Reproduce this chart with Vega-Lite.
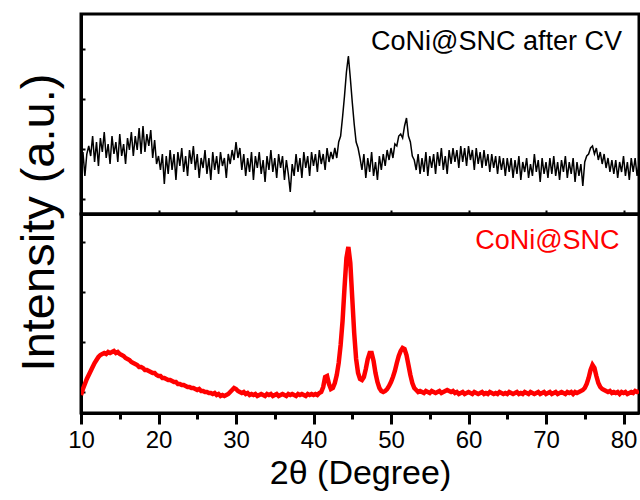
{
  "$schema": "https://vega.github.io/schema/vega-lite/v6.json",
  "padding": {"left": 13, "top": 12, "right": 2, "bottom": 4},
  "spacing": 0,
  "bounds": "flush",
  "config": {
    "font": "Liberation Sans",
    "view": {"stroke": "black", "strokeWidth": 3},
    "axis": {"domainColor": "black", "domainWidth": 3, "tickColor": "black", "tickWidth": 3, "grid": false, "labelColor": "black", "titleColor": "black", "labelFont": "Liberation Sans", "titleFont": "Liberation Sans", "titleFontWeight": "normal"}
  },
  "datasets": {
    "cv": [
      {"t":10,"v":46},{"t":10.25,"v":62},{"t":10.5,"v":38},{"t":10.75,"v":60},{"t":11,"v":68},
      {"t":11.25,"v":58},{"t":11.5,"v":78},{"t":11.75,"v":52},{"t":12,"v":72},{"t":12.25,"v":48},{"t":12.5,"v":76},{"t":12.75,"v":62},{"t":13,"v":82},{"t":13.25,"v":56},{"t":13.5,"v":70},{"t":13.75,"v":50},{"t":14,"v":78},{"t":14.25,"v":60},{"t":14.5,"v":72},{"t":14.75,"v":52},{"t":15,"v":80},{"t":15.25,"v":58},{"t":15.5,"v":70},{"t":15.75,"v":50},{"t":16,"v":76},{"t":16.25,"v":64},{"t":16.5,"v":82},{"t":16.75,"v":58},{"t":17,"v":78},{"t":17.25,"v":64},{"t":17.5,"v":86},{"t":17.75,"v":60},{"t":18,"v":88},{"t":18.25,"v":62},{"t":18.5,"v":80},{"t":18.75,"v":68},{"t":19,"v":84},{"t":19.25,"v":56},{"t":19.5,"v":74},{"t":19.75,"v":50},{"t":20,"v":58},
      {"t":20.25,"v":44},{"t":20.5,"v":60},{"t":20.75,"v":30},{"t":21,"v":58},{"t":21.25,"v":40},{"t":21.5,"v":64},{"t":21.75,"v":44},{"t":22,"v":60},{"t":22.25,"v":34},{"t":22.5,"v":62},{"t":22.75,"v":48},{"t":23,"v":66},{"t":23.25,"v":42},{"t":23.5,"v":58},{"t":23.75,"v":38},{"t":24,"v":64},{"t":24.25,"v":50},{"t":24.5,"v":68},{"t":24.75,"v":44},{"t":25,"v":60},{"t":25.25,"v":36},{"t":25.5,"v":56},{"t":25.75,"v":46},{"t":26,"v":64},{"t":26.25,"v":40},{"t":26.5,"v":56},{"t":26.75,"v":34},{"t":27,"v":62},{"t":27.25,"v":44},{"t":27.5,"v":58},{"t":27.75,"v":40},{"t":28,"v":62},{"t":28.25,"v":48},{"t":28.5,"v":56},{"t":28.75,"v":36},{"t":29,"v":60},{"t":29.25,"v":50},{"t":29.5,"v":64},
      {"t":29.75,"v":54},{"t":30,"v":72},{"t":30.25,"v":56},{"t":30.5,"v":66},
      {"t":30.75,"v":44},{"t":31,"v":60},{"t":31.25,"v":38},{"t":31.5,"v":56},{"t":31.75,"v":42},{"t":32,"v":62},{"t":32.25,"v":34},{"t":32.5,"v":58},{"t":32.75,"v":46},{"t":33,"v":62},{"t":33.25,"v":40},{"t":33.5,"v":54},{"t":33.75,"v":32},{"t":34,"v":58},{"t":34.25,"v":44},{"t":34.5,"v":64},{"t":34.75,"v":42},{"t":35,"v":56},{"t":35.25,"v":36},{"t":35.5,"v":60},{"t":35.75,"v":46},{"t":36,"v":58},{"t":36.25,"v":34},{"t":36.5,"v":54},{"t":36.75,"v":40},{"t":37,"v":22},{"t":37.25,"v":50},{"t":37.5,"v":38},{"t":37.75,"v":60},{"t":38,"v":42},{"t":38.25,"v":56},{"t":38.5,"v":36},{"t":38.75,"v":62},{"t":39,"v":46},{"t":39.25,"v":58},{"t":39.5,"v":38},{"t":39.75,"v":62},{"t":40,"v":48},{"t":40.25,"v":60},{"t":40.5,"v":42},{"t":40.75,"v":64},{"t":41,"v":50},{"t":41.25,"v":60},{"t":41.5,"v":44},{"t":41.75,"v":66},{"t":42,"v":52},{"t":42.25,"v":62},
      {"t":42.5,"v":55},{"t":42.75,"v":66},{"t":43,"v":56},{"t":43.25,"v":72},{"t":43.5,"v":78},{"t":43.75,"v":97},{"t":44,"v":118},{"t":44.25,"v":142},{"t":44.5,"v":158},{"t":44.75,"v":136},{"t":45,"v":112},{"t":45.25,"v":90},{"t":45.5,"v":72},{"t":45.75,"v":66},{"t":46,"v":56},
      {"t":46.25,"v":44},{"t":46.5,"v":60},{"t":46.75,"v":36},{"t":47,"v":56},{"t":47.25,"v":42},{"t":47.5,"v":62},{"t":47.75,"v":38},{"t":48,"v":52},{"t":48.25,"v":34},{"t":48.5,"v":58},{"t":48.75,"v":44},{"t":49,"v":60},{"t":49.25,"v":48},{"t":49.5,"v":64},{"t":49.75,"v":54},{"t":50,"v":66},{"t":50.25,"v":56},{"t":50.5,"v":70},
      {"t":50.75,"v":68},{"t":51,"v":78},{"t":51.25,"v":80},{"t":51.5,"v":76},{"t":51.75,"v":88},{"t":52,"v":96},{"t":52.25,"v":78},{"t":52.5,"v":72},{"t":52.75,"v":58},{"t":53,"v":54},
      {"t":53.25,"v":44},{"t":53.5,"v":60},{"t":53.75,"v":40},{"t":54,"v":56},{"t":54.25,"v":42},{"t":54.5,"v":62},{"t":54.75,"v":38},{"t":55,"v":58},{"t":55.25,"v":46},{"t":55.5,"v":60},{"t":55.75,"v":40},{"t":56,"v":62},{"t":56.25,"v":48},{"t":56.5,"v":66},{"t":56.75,"v":44},{"t":57,"v":58},{"t":57.25,"v":40},{"t":57.5,"v":64},{"t":57.75,"v":50},{"t":58,"v":66},{"t":58.25,"v":52},{"t":58.5,"v":64},{"t":58.75,"v":46},{"t":59,"v":68},{"t":59.25,"v":52},{"t":59.5,"v":66},{"t":59.75,"v":48},{"t":60,"v":68},{"t":60.25,"v":54},{"t":60.5,"v":64},{"t":60.75,"v":44},{"t":61,"v":66},{"t":61.25,"v":50},{"t":61.5,"v":62},{"t":61.75,"v":46},{"t":62,"v":64},{"t":62.25,"v":48},{"t":62.5,"v":60},{"t":62.75,"v":42},{"t":63,"v":60},{"t":63.25,"v":46},{"t":63.5,"v":58},{"t":63.75,"v":40},{"t":64,"v":58},{"t":64.25,"v":44},{"t":64.5,"v":56},{"t":64.75,"v":38},{"t":65,"v":56},
      {"t":65.25,"v":42},{"t":65.5,"v":56},{"t":65.75,"v":36},{"t":66,"v":54},{"t":66.25,"v":40},{"t":66.5,"v":58},{"t":66.75,"v":34},{"t":67,"v":52},{"t":67.25,"v":42},{"t":67.5,"v":56},{"t":67.75,"v":36},{"t":68,"v":50},{"t":68.25,"v":38},{"t":68.5,"v":60},{"t":68.75,"v":42},{"t":69,"v":54},{"t":69.25,"v":32},{"t":69.5,"v":56},{"t":69.75,"v":40},{"t":70,"v":52},{"t":70.25,"v":36},{"t":70.5,"v":56},{"t":70.75,"v":40},{"t":71,"v":58},{"t":71.25,"v":38},{"t":71.5,"v":52},{"t":71.75,"v":34},{"t":72,"v":54},{"t":72.25,"v":42},{"t":72.5,"v":58},{"t":72.75,"v":36},{"t":73,"v":52},{"t":73.25,"v":40},{"t":73.5,"v":56},{"t":73.75,"v":32},{"t":74,"v":52},{"t":74.25,"v":38},{"t":74.5,"v":50},{"t":74.75,"v":28},{"t":75,"v":52},
      {"t":75.25,"v":58},{"t":75.5,"v":60},{"t":75.75,"v":66},{"t":76,"v":68},{"t":76.25,"v":60},{"t":76.5,"v":66},{"t":76.75,"v":54},{"t":77,"v":62},{"t":77.25,"v":50},{"t":77.5,"v":60},{"t":77.75,"v":46},{"t":78,"v":56},{"t":78.25,"v":42},{"t":78.5,"v":54},
      {"t":78.75,"v":40},{"t":79,"v":54},{"t":79.25,"v":36},{"t":79.5,"v":52},{"t":79.75,"v":42},{"t":80,"v":58},{"t":80.25,"v":38},{"t":80.5,"v":52},{"t":80.75,"v":34},{"t":81,"v":56},{"t":81.25,"v":42},{"t":81.5,"v":56},{"t":81.75,"v":38},{"t":82,"v":50}
    ],
    "pristine": [
      {"t":10,"v":18},{"t":10.25,"v":24},{"t":10.5,"v":29},{"t":10.75,"v":34},{"t":11,"v":38},{"t":11.25,"v":42},{"t":11.5,"v":46},{"t":11.75,"v":50},{"t":12,"v":53},{"t":12.25,"v":56},{"t":12.5,"v":58},{"t":12.75,"v":59},{"t":13,"v":60},{"t":13.25,"v":59},{"t":13.5,"v":61},{"t":13.75,"v":60},{"t":14,"v":61},{"t":14.25,"v":62},{"t":14.5,"v":60},{"t":14.75,"v":61},{"t":15,"v":59},{"t":15.25,"v":58},{"t":15.5,"v":57},{"t":15.75,"v":55},{"t":16,"v":54},{"t":16.25,"v":53},{"t":16.5,"v":51},{"t":16.75,"v":50},{"t":17,"v":49},{"t":17.25,"v":48},{"t":17.5,"v":46},{"t":17.75,"v":46},{"t":18,"v":45},{"t":18.25,"v":43},{"t":18.5,"v":43},{"t":18.75,"v":42},{"t":19,"v":41},{"t":19.25,"v":40},{"t":19.5,"v":40},{"t":19.75,"v":38},{"t":20,"v":37},{"t":20.25,"v":37},{"t":20.5,"v":35},{"t":20.75,"v":35},{"t":21,"v":34},{"t":21.25,"v":33},{"t":21.5,"v":33},{"t":21.75,"v":32},{"t":22,"v":31},{"t":22.25,"v":31},{"t":22.5,"v":29},{"t":22.75,"v":29},{"t":23,"v":28},{"t":23.25,"v":28},{"t":23.5,"v":27},{"t":23.75,"v":26},{"t":24,"v":26},{"t":24.25,"v":25},{"t":24.5,"v":25},{"t":24.75,"v":24},{"t":25,"v":23},{"t":25.25,"v":24},{"t":25.5,"v":22},{"t":25.75,"v":22},{"t":26,"v":21},{"t":26.25,"v":21},{"t":26.5,"v":20},{"t":26.75,"v":20},{"t":27,"v":19},{"t":27.25,"v":20},{"t":27.5,"v":18},{"t":27.75,"v":19},{"t":28,"v":17},{"t":28.25,"v":18},{"t":28.5,"v":17},{"t":28.75,"v":18},{"t":29,"v":19},{"t":29.25,"v":21},{"t":29.5,"v":23},{"t":29.75,"v":25},{"t":30,"v":24},{"t":30.25,"v":22},{"t":30.5,"v":21},{"t":30.75,"v":20},{"t":31,"v":21},{"t":31.25,"v":19},{"t":31.5,"v":20},{"t":31.75,"v":18},{"t":32,"v":19},{"t":32.25,"v":18},{"t":32.5,"v":19},{"t":32.75,"v":17},{"t":33,"v":18},{"t":33.25,"v":19},{"t":33.5,"v":18},{"t":33.75,"v":17},{"t":34,"v":19},{"t":34.25,"v":18},{"t":34.5,"v":19},{"t":34.75,"v":17},{"t":35,"v":18},{"t":35.25,"v":19},{"t":35.5,"v":17},{"t":35.75,"v":18},{"t":36,"v":19},{"t":36.25,"v":18},{"t":36.5,"v":17},{"t":36.75,"v":19},{"t":37,"v":18},{"t":37.25,"v":19},{"t":37.5,"v":18},{"t":37.75,"v":17},{"t":38,"v":19},{"t":38.25,"v":18},{"t":38.5,"v":19},{"t":38.75,"v":18},{"t":39,"v":17},{"t":39.25,"v":19},{"t":39.5,"v":18},{"t":39.75,"v":19},{"t":40,"v":18},{"t":40.25,"v":19},{"t":40.5,"v":18},{"t":40.75,"v":20},{"t":41,"v":21},{"t":41.25,"v":26},{"t":41.5,"v":36},{"t":41.75,"v":37},{"t":42,"v":29},{"t":42.25,"v":24},{"t":42.5,"v":25},{"t":42.75,"v":30},{"t":43,"v":38},{"t":43.25,"v":50},{"t":43.5,"v":68},{"t":43.75,"v":92},{"t":44,"v":125},{"t":44.25,"v":155},{"t":44.5,"v":166},{"t":44.75,"v":150},{"t":45,"v":115},{"t":45.25,"v":80},{"t":45.5,"v":54},{"t":45.75,"v":40},{"t":46,"v":34},{"t":46.25,"v":33},{"t":46.5,"v":36},{"t":46.75,"v":44},{"t":47,"v":54},{"t":47.25,"v":60},{"t":47.5,"v":60},{"t":47.75,"v":52},{"t":48,"v":40},{"t":48.25,"v":31},{"t":48.5,"v":25},{"t":48.75,"v":22},{"t":49,"v":21},{"t":49.25,"v":22},{"t":49.5,"v":24},{"t":49.75,"v":27},{"t":50,"v":31},{"t":50.25,"v":36},{"t":50.5,"v":42},{"t":50.75,"v":50},{"t":51,"v":57},{"t":51.25,"v":62},{"t":51.5,"v":65},{"t":51.75,"v":64},{"t":52,"v":58},{"t":52.25,"v":48},{"t":52.5,"v":38},{"t":52.75,"v":30},{"t":53,"v":25},{"t":53.25,"v":23},{"t":53.5,"v":21},{"t":53.75,"v":22},{"t":54,"v":21},{"t":54.25,"v":20},{"t":54.5,"v":22},{"t":54.75,"v":21},{"t":55,"v":20},{"t":55.25,"v":22},{"t":55.5,"v":21},{"t":55.75,"v":20},{"t":56,"v":21},{"t":56.25,"v":22},{"t":56.5,"v":20},{"t":56.75,"v":21},{"t":57,"v":22},{"t":57.25,"v":23},{"t":57.5,"v":22},{"t":57.75,"v":21},{"t":58,"v":22},{"t":58.25,"v":20},{"t":58.5,"v":21},{"t":58.75,"v":19},{"t":59,"v":20},{"t":59.25,"v":21},{"t":59.5,"v":19},{"t":59.75,"v":20},{"t":60,"v":21},{"t":60.25,"v":20},{"t":60.5,"v":19},{"t":60.75,"v":21},{"t":61,"v":20},{"t":61.25,"v":19},{"t":61.5,"v":20},{"t":61.75,"v":21},{"t":62,"v":19},{"t":62.25,"v":20},{"t":62.5,"v":19},{"t":62.75,"v":21},{"t":63,"v":20},{"t":63.25,"v":19},{"t":63.5,"v":20},{"t":63.75,"v":19},{"t":64,"v":21},{"t":64.25,"v":20},{"t":64.5,"v":19},{"t":64.75,"v":20},{"t":65,"v":19},{"t":65.25,"v":21},{"t":65.5,"v":20},{"t":65.75,"v":19},{"t":66,"v":20},{"t":66.25,"v":21},{"t":66.5,"v":19},{"t":66.75,"v":20},{"t":67,"v":19},{"t":67.25,"v":21},{"t":67.5,"v":20},{"t":67.75,"v":19},{"t":68,"v":21},{"t":68.25,"v":20},{"t":68.5,"v":19},{"t":68.75,"v":20},{"t":69,"v":21},{"t":69.25,"v":19},{"t":69.5,"v":20},{"t":69.75,"v":21},{"t":70,"v":19},{"t":70.25,"v":20},{"t":70.5,"v":21},{"t":70.75,"v":19},{"t":71,"v":20},{"t":71.25,"v":21},{"t":71.5,"v":19},{"t":71.75,"v":20},{"t":72,"v":21},{"t":72.25,"v":20},{"t":72.5,"v":19},{"t":72.75,"v":21},{"t":73,"v":20},{"t":73.25,"v":21},{"t":73.5,"v":19},{"t":73.75,"v":21},{"t":74,"v":20},{"t":74.25,"v":21},{"t":74.5,"v":22},{"t":74.75,"v":23},{"t":75,"v":25},{"t":75.25,"v":29},{"t":75.5,"v":35},{"t":75.75,"v":43},{"t":76,"v":48},{"t":76.25,"v":45},{"t":76.5,"v":37},{"t":76.75,"v":30},{"t":77,"v":26},{"t":77.25,"v":24},{"t":77.5,"v":23},{"t":77.75,"v":22},{"t":78,"v":21},{"t":78.25,"v":22},{"t":78.5,"v":20},{"t":78.75,"v":21},{"t":79,"v":20},{"t":79.25,"v":21},{"t":79.5,"v":19},{"t":79.75,"v":21},{"t":80,"v":20},{"t":80.25,"v":21},{"t":80.5,"v":19},{"t":80.75,"v":20},{"t":81,"v":21},{"t":81.25,"v":20},{"t":81.5,"v":22},{"t":81.75,"v":21},{"t":82,"v":22}
    ],
    "labels": [
      {"panel": "cv", "t": 79.8, "v": 172, "label": "CoNi@SNC after CV"},
      {"panel": "pristine", "t": 79.5, "v": 172, "label": "CoNi@SNC"}
    ]
  },
  "vconcat": [
    {
      "width": 558,
      "height": 200,
      "layer": [
        {
          "data": {"name": "cv"},
          "mark": {"type": "line", "color": "black", "strokeWidth": 1.5, "clip": true},
          "encoding": {
            "x": {"field": "t", "type": "quantitative", "scale": {"domain": [10, 82], "nice": false, "zero": false},
                  "axis": {"title": null, "labels": false, "values": [10,15,20,25,30,35,40,45,50,55,60,65,70,75,80], "tickSize": -4, "tickWidth": 2}},
            "y": {"field": "v", "type": "quantitative", "scale": {"domain": [0, 200], "nice": false, "zero": false},
                  "axis": {"title": null, "labels": false, "values": [15,40,65,90,115,140,165,190], "tickSize": -4, "tickWidth": 2}}
          }
        },
        {
          "data": {"name": "labels"},
          "transform": [{"filter": "datum.panel === 'cv'"}],
          "mark": {"type": "text", "align": "right", "baseline": "middle", "fontSize": 27, "font": "Liberation Sans", "color": "black"},
          "encoding": {
            "x": {"field": "t", "type": "quantitative"},
            "y": {"field": "v", "type": "quantitative"},
            "text": {"field": "label"}
          }
        }
      ]
    },
    {
      "width": 558,
      "height": 199,
      "layer": [
        {
          "data": {"name": "pristine"},
          "mark": {"type": "line", "color": "#ff0000", "strokeWidth": 4.5, "clip": true},
          "encoding": {
            "x": {"field": "t", "type": "quantitative", "scale": {"domain": [10, 82], "nice": false, "zero": false},
                  "axis": {"title": "2θ (Degree)", "titleFontSize": 34, "titlePadding": 4, "labelFontSize": 24, "labelPadding": 4, "values": [10,20,30,40,50,60,70,80], "tickSize": 11, "tickWidth": 3, "labelFlush": false}},
            "y": {"field": "v", "type": "quantitative", "scale": {"domain": [0, 199], "nice": false, "zero": false},
                  "axis": {"title": "Intensity (a.u.)", "titleFontSize": 47, "titleX": -28, "titleY": 8, "titleBaseline": "alphabetic", "titleAngle": -90, "titleAlign": "center", "labels": false, "values": [21,46,71,96,121,146,171,196], "tickSize": -4, "tickWidth": 2}}
          }
        },
        {
          "data": {"name": "labels"},
          "transform": [{"filter": "datum.panel === 'pristine'"}],
          "mark": {"type": "text", "align": "right", "baseline": "middle", "fontSize": 27, "font": "Liberation Sans", "color": "#ff0000"},
          "encoding": {
            "x": {"field": "t", "type": "quantitative", "axis": {"orient": "bottom", "title": null, "labels": false, "domain": false, "values": [15,25,35,45,55,65,75], "tickSize": 6, "tickWidth": 3}},
            "y": {"field": "v", "type": "quantitative"},
            "text": {"field": "label"}
          }
        }
      ],
      "resolve": {"axis": {"x": "independent"}}
    }
  ]
}
